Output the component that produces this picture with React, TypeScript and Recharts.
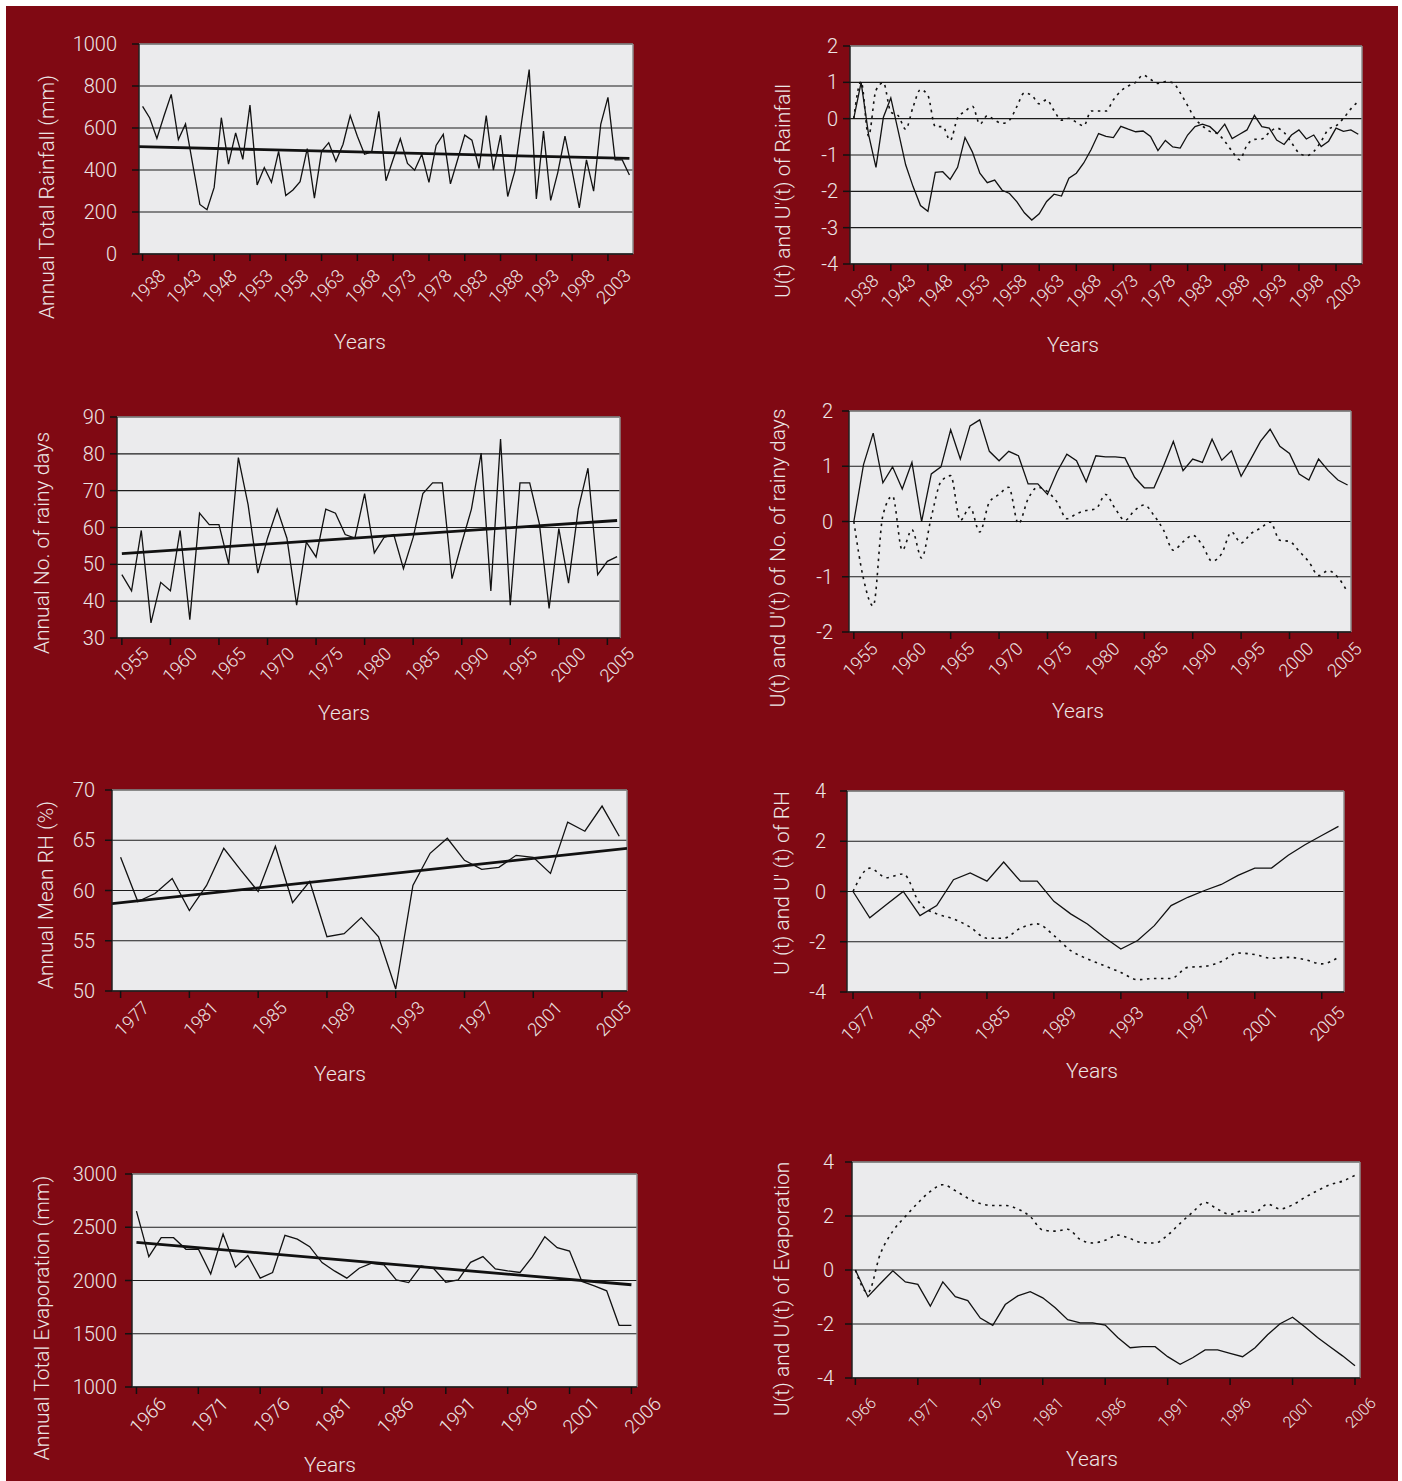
import React from "react";
import { LineChart, Line, XAxis, YAxis, CartesianGrid, ReferenceLine } from "recharts";

const BG = "#800913";
const TXT = "#ece5e5";
const PLOT_BG = "#ebebed";
const FONT = "Roboto, 'Liberation Sans', Arial, sans-serif";

const range = (start: number, n: number) => Array.from({ length: n }, (_, i) => start + i);

// ---- rainfall (1938-2006)
const rainYears = range(1938, 69);
const rainTotal = [
  703, 648, 550, 658, 760, 545, 619, 428, 236, 211,
  317, 649, 428, 577, 451, 709, 329, 412, 341, 489,
  278, 305, 344, 502, 266, 489, 530, 442, 523, 659,
  561, 475, 486, 679, 349, 451, 549, 431, 399, 475,
  341, 517, 570, 334, 449, 566, 542, 407, 659, 399,
  566, 274, 396, 644, 878, 262, 585, 255, 389, 561,
  396, 220, 448, 299, 619, 746, 448, 448, 376,
];
const rainTrendYears = [1937.5, 2006];
const rainTrend = [511, 455];
const rainU = [
  0, 1.0, -0.43, -1.34, 0.04, 0.57, -0.34, -1.27, -1.87, -2.39,
  -2.55, -1.48, -1.46, -1.67, -1.34, -0.52, -0.92, -1.5, -1.76, -1.69,
  -1.97, -2.06, -2.29, -2.59, -2.79, -2.62, -2.28, -2.08, -2.13, -1.64,
  -1.5, -1.22, -0.85, -0.41, -0.49, -0.52, -0.21, -0.29, -0.36, -0.34,
  -0.49, -0.88, -0.6, -0.78, -0.81, -0.45, -0.22, -0.15, -0.22, -0.41,
  -0.15, -0.55, -0.43, -0.31, 0.09, -0.22, -0.26, -0.59, -0.71, -0.45,
  -0.31, -0.56, -0.45, -0.77, -0.62, -0.26, -0.35, -0.31, -0.43,
];
const rainU2 = [
  0, 1.02, -0.48, 0.78, 0.99, 0.18, 0.08, -0.29, 0.32, 0.8,
  0.64, -0.22, -0.22, -0.6, 0.02, 0.2, 0.34, -0.15, 0.08, -0.04,
  -0.13, -0.04, 0.34, 0.71, 0.64, 0.41, 0.52, 0.22, -0.04, 0.01,
  -0.1, -0.2, 0.21, 0.21, 0.21, 0.52, 0.76, 0.9, 1.0, 1.2,
  1.08, 0.97, 1.02, 0.99, 0.71, 0.36, 0, -0.2, -0.35, -0.41,
  -0.62, -0.9, -1.13, -0.73, -0.57, -0.56, -0.38, -0.26, -0.38, -0.66,
  -0.94, -1.02, -0.9, -0.62, -0.29, -0.2, 0.01, 0.27, 0.48,
];
const rainLabels = [1938, 1943, 1948, 1953, 1958, 1963, 1968, 1973, 1978, 1983, 1988, 1993, 1998, 2003];

// ---- rainy days (1955-2006)
const dayYears = range(1955, 52);
const rainyDays = [
  47.2, 42.8, 59.2, 34.1, 45.1, 42.8, 59.2, 35.0, 63.9, 60.8,
  60.8, 50.1, 79.0, 66.2, 47.6, 57.1, 65.0, 57.1, 38.9, 56.0,
  52.0, 65.0, 63.9, 58.1, 57.1, 69.2, 53.1, 57.3, 58.1, 48.8,
  57.3, 69.2, 72.1, 72.1, 46.1, 55.8, 65.0, 80.2, 42.8, 84.0,
  38.9, 72.1, 72.1, 61.0, 38.0, 59.7, 44.9, 65.0, 76.1, 47.2,
  50.8, 52.1,
];
const dayTrendYears = [1955, 2006];
const dayTrend = [52.9, 61.9];
const dayU = [
  0, 1.03, 1.6, 0.7, 0.99, 0.59, 1.07, 0, 0.86, 0.99,
  1.66, 1.13, 1.73, 1.84, 1.27, 1.1, 1.27, 1.19, 0.68, 0.68,
  0.49, 0.9, 1.22, 1.1, 0.72, 1.19, 1.17, 1.17, 1.15, 0.8,
  0.61, 0.61, 1.01, 1.45, 0.92, 1.13, 1.07, 1.49, 1.11, 1.28,
  0.82, 1.13, 1.45, 1.67, 1.36, 1.23, 0.86, 0.75, 1.13, 0.92,
  0.75, 0.66,
];
const dayU2 = [
  0, -1.04, -1.53, 0.11, 0.46, -0.52, -0.15, -0.66, 0.08, 0.72,
  0.83, 0.02, 0.26, -0.19, 0.35, 0.49, 0.62, -0.04, 0.41, 0.62,
  0.54, 0.35, 0.05, 0.14, 0.2, 0.23, 0.49, 0.23, 0.02, 0.2,
  0.3, 0.11, -0.16, -0.52, -0.37, -0.25, -0.43, -0.72, -0.58, -0.19,
  -0.39, -0.22, -0.12, -0.01, -0.34, -0.36, -0.54, -0.73, -0.98, -0.89,
  -1.01, -1.28,
];
const dayLabels = [1955, 1960, 1965, 1970, 1975, 1980, 1985, 1990, 1995, 2000, 2005];

// ---- relative humidity (1977-2006)
const rhYears = range(1977, 30);
const rhMean = [
  63.3, 58.9, 59.7, 61.2, 58.0, 60.5, 64.2, 62.0, 59.9, 64.4,
  58.8, 60.9, 55.4, 55.7, 57.3, 55.4, 50.2, 60.5, 63.7, 65.2,
  63.0, 62.1, 62.3, 63.5, 63.3, 61.7, 66.8, 65.9, 68.4, 65.4,
];
const rhTrendYears = [1976.5, 2006.45];
const rhTrend = [58.7, 64.2];
const rhU = [
  0, -1.05, -0.52, 0, -0.96, -0.56, 0.47, 0.74, 0.41, 1.17,
  0.41, 0.41, -0.39, -0.89, -1.29, -1.82, -2.29, -1.95, -1.36, -0.56,
  -0.23, 0.04, 0.28, 0.64, 0.93, 0.93, 1.44, 1.86, 2.23, 2.59,
];
const rhU2 = [
  0, 0.93, 0.55, 0.7, -0.49, -0.89, -1.09, -1.42, -1.86, -1.86,
  -1.46, -1.29, -1.75, -2.35, -2.68, -2.95, -3.22, -3.51, -3.46, -3.46,
  -3.02, -2.98, -2.79, -2.45, -2.51, -2.66, -2.62, -2.71, -2.88, -2.62,
];
const rhLabels = [1977, 1981, 1985, 1989, 1993, 1997, 2001, 2005];

// ---- evaporation (1966-2006)
const evapYears = range(1966, 41);
const evapTotal = [
  2651, 2224, 2402, 2402, 2293, 2296, 2062, 2436, 2125, 2234,
  2022, 2075, 2424, 2389, 2318, 2168, 2090, 2022, 2115, 2162,
  2146, 2006, 1981, 2137, 2115, 1984, 2006, 2171, 2224, 2109,
  2090, 2075, 2224, 2411, 2308, 2277, 1991, 1950, 1903, 1579,
  1579,
];
const evapTrendYears = [1966, 2006];
const evapTrend = [2358, 1960];
const evapU = [
  0, -0.99, -0.5, -0.03, -0.44, -0.53, -1.34, -0.44, -0.99, -1.13,
  -1.78, -2.05, -1.28, -0.96, -0.8, -1.03, -1.4, -1.84, -1.96, -1.96,
  -2.04, -2.5, -2.88, -2.84, -2.84, -3.21, -3.49, -3.25, -2.96, -2.96,
  -3.09, -3.21, -2.88, -2.4, -1.99, -1.75, -2.11, -2.5, -2.84, -3.18,
  -3.55,
];
const evapU2 = [
  0, -0.84, 0.6, 1.44, 1.98, 2.48, 2.91, 3.16, 2.94, 2.66,
  2.46, 2.39, 2.39, 2.26, 1.98, 1.48, 1.44, 1.51, 1.13, 1.0,
  1.1, 1.29, 1.16, 1.01, 1.0, 1.29, 1.73, 2.14, 2.5, 2.25,
  2.06, 2.19, 2.14, 2.44, 2.26, 2.41, 2.69, 2.94, 3.16, 3.29,
  3.51,
];
const evapLabels = [1966, 1971, 1976, 1981, 1986, 1991, 1996, 2001, 2006];

type Pt = { year: number; v: number };
const pts = (xs: number[], ys: number[]): Pt[] => xs.map((year, i) => ({ year, v: ys[i] }));

type Kind = "solid" | "dotted" | "trend";
interface PanelProps {
  left: number;
  top: number;
  w: number;
  h: number;
  xDomain: [number, number];
  yDomain: [number, number];
  yTicks: number[];
  xTicks: number[];
  lines: { data: Pt[]; kind: Kind }[];
  labelDx: number;
  labelDy: number;
  labelSize: number;
  yGap: number;
  title: string;
  titleX: number;
  titleY: number;
  yearsX: number;
  yearsY: number;
}

const ML = 90;
const MR = 45;
const MT = 22;
const MB = 75;
const TICK = 7;

const XTick = (props: any) => {
  const { x, y, payload, dx, dy, size } = props;
  const tx = x + dx;
  const ty = y + dy;
  return (
    <text
      x={tx}
      y={ty}
      transform={`rotate(-45 ${tx} ${ty})`}
      textAnchor="end"
      fill={TXT}
      fontSize={size}
      fontFamily={FONT}
      fontWeight={300}
    >
      {payload.value}
    </text>
  );
};

const Panel = (p: PanelProps) => {
  return (
    <>
      <div style={{ position: "absolute", left: p.left - ML, top: p.top - MT }}>
        <LineChart
          width={p.w + ML + MR}
          height={p.h + MT + MB}
          margin={{ top: MT, right: MR, bottom: 0, left: 0 }}
        >
          <CartesianGrid vertical={false} stroke="#1c1c1c" strokeWidth={1.2} fill={PLOT_BG} fillOpacity={1} />
          <XAxis
            type="number"
            dataKey="year"
            domain={p.xDomain}
            ticks={p.xTicks}
            interval={0}
            allowDataOverflow
            height={MB}
            tickSize={TICK}
            tickMargin={0}
            axisLine={{ stroke: "#222", strokeWidth: 1.5 }}
            tickLine={{ stroke: "#111", strokeWidth: 1.5 }}
            tick={(tp: any) => (
              <XTick {...tp} dx={p.labelDx} dy={p.labelDy - TICK} size={p.labelSize} />
            )}
          />
          <YAxis
            type="number"
            domain={p.yDomain}
            ticks={p.yTicks}
            interval={0}
            allowDataOverflow
            width={ML}
            tickSize={TICK}
            tickMargin={p.yGap - TICK}
            axisLine={{ stroke: "#222", strokeWidth: 1.5 }}
            tickLine={{ stroke: "#111", strokeWidth: 1.5 }}
            tick={{ fill: TXT, fontSize: 20, fontFamily: FONT, fontWeight: 300 }}
          />
          <ReferenceLine x={p.xDomain[1]} stroke="#8c8c8c" strokeWidth={1.5} />
          <ReferenceLine y={p.yDomain[1]} stroke="#8c8c8c" strokeWidth={1.5} />
          {p.lines.map((ln, i) => (
            <Line
              key={i}
              data={ln.data}
              dataKey="v"
              type={ln.kind === "dotted" ? "monotone" : "linear"}
              stroke="#111"
              strokeWidth={ln.kind === "trend" ? 2.8 : ln.kind === "dotted" ? 1.6 : 1.3}
              strokeDasharray={ln.kind === "dotted" ? "2.5 4.5" : undefined}
              dot={false}
              activeDot={false}
              isAnimationActive={false}
            />
          ))}
        </LineChart>
      </div>
      <div
        style={{
          position: "absolute",
          left: p.titleX,
          top: p.titleY,
          transform: "translate(-50%, -50%) rotate(-90deg)",
          whiteSpace: "nowrap",
          color: TXT,
          fontSize: 21,
          fontWeight: 300,
        }}
      >
        {p.title}
      </div>
      <div
        style={{
          position: "absolute",
          left: p.yearsX,
          top: p.yearsY,
          transform: "translate(-50%, -50%)",
          color: TXT,
          fontSize: 21,
          fontWeight: 300,
        }}
      >
        Years
      </div>
    </>
  );
};

const App = () => {
  return (
    <div
      style={{
        position: "absolute",
        left: 0,
        top: 0,
        width: 1402,
        height: 1481,
        background: "#fff",
        fontFamily: FONT,
        overflow: "hidden",
      }}
    >
      <div style={{ position: "absolute", left: 6, top: 6, width: 1392, height: 1475, background: BG }} />

      <Panel
        left={139} top={44} w={494} h={210}
        xDomain={[1937.5, 2006.5]} yDomain={[0, 1000]}
        yTicks={[0, 200, 400, 600, 800, 1000]} xTicks={rainLabels}
        lines={[
          { data: pts(rainYears, rainTotal), kind: "solid" },
          { data: pts(rainTrendYears, rainTrend), kind: "trend" },
        ]}
        labelDx={24} labelDy={23} labelSize={18} yGap={22}
        title="Annual Total Rainfall (mm)" titleX={47} titleY={197}
        yearsX={360} yearsY={342}
      />
      <Panel
        left={850} top={46} w={512} h={218}
        xDomain={[1937.5, 2006.5]} yDomain={[-4, 2]}
        yTicks={[-4, -3, -2, -1, 0, 1, 2]} xTicks={rainLabels}
        lines={[
          { data: pts(rainYears, rainU2), kind: "dotted" },
          { data: pts(rainYears, rainU), kind: "solid" },
        ]}
        labelDx={26} labelDy={18} labelSize={18} yGap={12}
        title="U(t) and U'(t) of Rainfall" titleX={783} titleY={191}
        yearsX={1073} yearsY={345}
      />
      <Panel
        left={117} top={417} w={503} h={221}
        xDomain={[1954.5, 2006.3]} yDomain={[30, 90]}
        yTicks={[30, 40, 50, 60, 70, 80, 90]} xTicks={dayLabels}
        lines={[
          { data: pts(dayYears, rainyDays), kind: "solid" },
          { data: pts(dayTrendYears, dayTrend), kind: "trend" },
        ]}
        labelDx={28} labelDy={17} labelSize={18} yGap={12}
        title="Annual No. of rainy days" titleX={42} titleY={543}
        yearsX={344} yearsY={713}
      />
      <Panel
        left={849} top={411} w={502} h={221}
        xDomain={[1954.5, 2006.35]} yDomain={[-2, 2]}
        yTicks={[-2, -1, 0, 1, 2]} xTicks={dayLabels}
        lines={[
          { data: pts(dayYears, dayU2), kind: "dotted" },
          { data: pts(dayYears, dayU), kind: "solid" },
        ]}
        labelDx={25} labelDy={18} labelSize={18} yGap={16}
        title="U(t) and U'(t) of No. of rainy days" titleX={778} titleY={558}
        yearsX={1078} yearsY={711}
      />
      <Panel
        left={112} top={790} w={515} h={201}
        xDomain={[1976.5, 2006.45]} yDomain={[50, 70]}
        yTicks={[50, 55, 60, 65, 70]} xTicks={rhLabels}
        lines={[
          { data: pts(rhYears, rhMean), kind: "solid" },
          { data: pts(rhTrendYears, rhTrend), kind: "trend" },
        ]}
        labelDx={30} labelDy={18} labelSize={18} yGap={17}
        title="Annual Mean RH (%)" titleX={46} titleY={895}
        yearsX={340} yearsY={1074}
      />
      <Panel
        left={847} top={791} w={497} h={201}
        xDomain={[1976.64, 2006.33]} yDomain={[-4, 4]}
        yTicks={[-4, -2, 0, 2, 4]} xTicks={rhLabels}
        lines={[
          { data: pts(rhYears, rhU2), kind: "dotted" },
          { data: pts(rhYears, rhU), kind: "solid" },
        ]}
        labelDx={24} labelDy={22} labelSize={18} yGap={21}
        title="U (t) and U' (t) of RH" titleX={782} titleY={883}
        yearsX={1092} yearsY={1071}
      />
      <Panel
        left={132} top={1174} w={505} h={213}
        xDomain={[1965.64, 2006.45]} yDomain={[1000, 3000]}
        yTicks={[1000, 1500, 2000, 2500, 3000]} xTicks={evapLabels}
        lines={[
          { data: pts(evapYears, evapTotal), kind: "solid" },
          { data: pts(evapTrendYears, evapTrend), kind: "trend" },
        ]}
        labelDx={31} labelDy={18} labelSize={19} yGap={15}
        title="Annual Total Evaporation (mm)" titleX={42} titleY={1318}
        yearsX={330} yearsY={1465}
      />
      <Panel
        left={852} top={1162} w={508} h={216}
        xDomain={[1965.73, 2006.4]} yDomain={[-4, 4]}
        yTicks={[-4, -2, 0, 2, 4]} xTicks={evapLabels}
        lines={[
          { data: pts(evapYears, evapU2), kind: "dotted" },
          { data: pts(evapYears, evapU), kind: "solid" },
        ]}
        labelDx={22} labelDy={26} labelSize={16} yGap={18}
        title="U(t) and U'(t) of Evaporation" titleX={782} titleY={1289}
        yearsX={1092} yearsY={1459}
      />
    </div>
  );
};

export default App;
